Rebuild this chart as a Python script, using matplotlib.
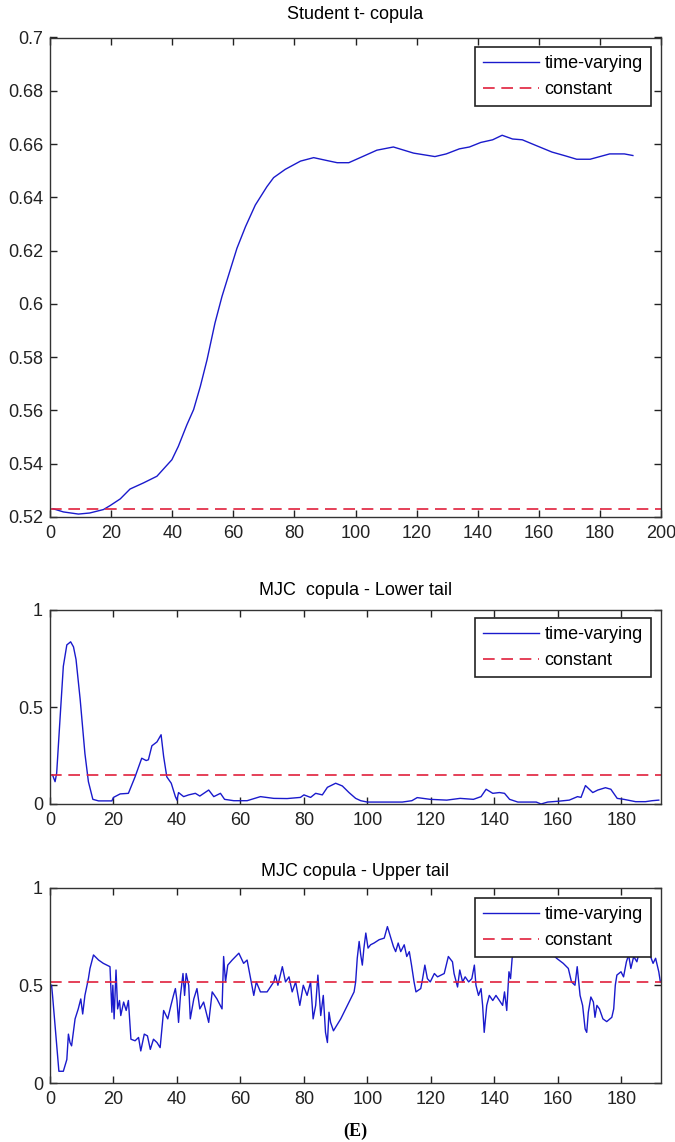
import matplotlib
matplotlib.use('Agg')
import matplotlib.pyplot as plt
import numpy as np

plt.rcParams['font.family'] = ['Liberation Sans', 'DejaVu Sans']

# Student t copula, time-varying correlation
t_x = [1, 4.4, 9.3, 13, 17.5, 19.7, 23, 26.2, 30.6, 35, 39.9, 42, 44.8, 47, 49.2,
       51.4, 54, 56.3, 59, 61.2, 64, 67.2, 71, 73.2, 77, 82, 86.3, 90.7, 94, 97.8,
       102.7, 107, 112.4, 119, 126, 129.7, 134, 137.3, 141, 144.9, 148, 151.4,
       154.6, 159, 164.3, 168.6, 172.4, 176.8, 180, 183.2, 188, 190.8]
t_y = [0.5231, 0.5219, 0.5211, 0.5215, 0.5228, 0.5243, 0.5268, 0.5305, 0.5328,
       0.5353, 0.5415, 0.5465, 0.5546, 0.5603, 0.569, 0.579, 0.5928, 0.6028,
       0.6128, 0.6209, 0.629, 0.6371, 0.644, 0.6474, 0.6505, 0.6536, 0.6549,
       0.6538, 0.653, 0.653, 0.6555, 0.6577, 0.6589, 0.6566, 0.6553, 0.6563,
       0.6582, 0.6589, 0.6606, 0.6616, 0.6633, 0.6619, 0.6616, 0.6595, 0.657,
       0.6556, 0.6543, 0.6543, 0.6553, 0.6563, 0.6563, 0.6557]
t_const = 0.523

# MJC copula, lower tail
lo_x = [0.8, 1.6, 2.1, 3.2, 4.2, 5.3, 6.5, 7.4, 8.2, 9.5, 11, 12.1, 13.5, 15.3,
        19.5, 20, 22.1, 24.7, 26.8, 28.9, 30.3, 31, 32.1, 33.7, 35, 35.8, 36.8,
        38.2, 39.5, 40, 40.5, 42.1, 43.7, 45.8, 47.2, 50, 51.6, 53.7, 55, 57.9,
        62.1, 66.3, 70.5, 74.7, 78.9, 80, 82.1, 83.7, 85.8, 87.4, 90, 92.1, 94.2,
        96.3, 97.9, 100, 111, 114, 115.7, 119.8, 125, 129.2, 133.4, 135.8, 137.4,
        139.5, 141.6, 143.2, 144.8, 147.4, 153.2, 154.7, 156.8, 160, 163.6, 166.2,
        167.3, 168.7, 171, 172.6, 175, 176.7, 178.7, 180.8, 184.5, 187.6, 189.7,
        191.8]
lo_y = [0.15, 0.115, 0.159, 0.45, 0.71, 0.82, 0.836, 0.81, 0.745, 0.54, 0.26,
        0.115, 0.024, 0.016, 0.016, 0.034, 0.052, 0.055, 0.14, 0.236, 0.224,
        0.228, 0.30, 0.32, 0.357, 0.245, 0.14, 0.107, 0.038, 0.02, 0.059, 0.038,
        0.047, 0.055, 0.041, 0.072, 0.038, 0.055, 0.024, 0.017, 0.017, 0.038,
        0.029, 0.028, 0.034, 0.047, 0.034, 0.055, 0.047, 0.086, 0.107, 0.093,
        0.059, 0.029, 0.017, 0.01, 0.01, 0.017, 0.033, 0.024, 0.02, 0.029, 0.024,
        0.038, 0.076, 0.055, 0.059, 0.055, 0.024, 0.01, 0.01, 0.0, 0.01, 0.014,
        0.02, 0.038, 0.034, 0.095, 0.059, 0.072, 0.084, 0.076, 0.029, 0.024,
        0.012, 0.012, 0.017, 0.02]
lo_const = 0.148

# MJC copula, upper tail
up_x = [0.5, 0.8, 1.6, 2.1, 2.8, 4.2, 5.3, 5.8, 6.3, 6.8, 7.9, 8.9, 9.7, 10.3,
        11, 12.1, 12.6, 13.7, 15.3, 16.8, 18.9, 19.5, 19.8, 20.2, 20.8, 21.3,
        21.9, 22.3, 23.2, 24, 24.7, 25.5, 26.8, 27.9, 28.6, 29.7, 30.7, 31.6,
        32.6, 33.7, 34.7, 35.8, 37.1, 38.1, 38.9, 39.5, 40, 40.5, 41.1, 41.9,
        42.4, 42.9, 43.7, 44.2, 45.3, 46.3, 47.2, 48.4, 50, 51.1, 52.6, 54.2,
        54.7, 55.3, 56, 57.4, 59.5, 61, 62.1, 63.2, 64.2, 65, 66.3, 68.4, 70.5,
        71, 71.8, 73.2, 74.2, 75.3, 76.3, 77.4, 78.7, 79.8, 81, 82.1, 82.9, 83.7,
        84.4, 85.3, 86.1, 86.8, 87.4, 87.9, 88.4, 89.3, 91.6, 93.7, 95.8, 96.3,
        96.8, 97.4, 97.9, 98.4, 98.9, 99.5, 100.2, 101, 102.1, 103.7, 105.3,
        106.3, 107.4, 108.2, 108.9, 109.7, 110.5, 111.6, 112.4, 113.2, 113.9,
        114.7, 115.3, 116.8, 117.4, 118.1, 118.9, 119.8, 121.1, 122.1, 123.2,
        124.2, 125.5, 126.8, 127.3, 128.4, 129.1, 130, 130.8, 131.9, 132.9,
        133.7, 134.2, 135, 135.8, 136.3, 136.8, 137.6, 138.4, 139.5, 140.5,
        141.6, 142.6, 143.2, 143.9, 144.6, 145.1, 145.6, 146.3, 147, 149, 151,
        153, 155, 157, 159.6, 161.7, 163.3, 164.3, 165.4, 166.1, 167, 167.8,
        168.6, 169.1, 169.6, 170.4, 171.2, 171.7, 172.3, 173.1, 174.2, 175.4,
        177, 177.6, 178.1, 178.6, 179.9, 180.7, 181.6, 182.3, 183, 183.9, 184.9,
        185.5, 186.5, 187.5, 188.5, 189.2, 190, 190.8, 191.8, 192.3]
up_y = [0.5, 0.448, 0.293, 0.19, 0.06, 0.06, 0.12, 0.25, 0.207, 0.19, 0.328,
        0.379, 0.43, 0.353, 0.448, 0.534, 0.586, 0.655, 0.629, 0.612, 0.595,
        0.362, 0.5, 0.328, 0.578, 0.379, 0.422, 0.345, 0.414, 0.371, 0.422,
        0.224, 0.216, 0.233, 0.164, 0.25, 0.241, 0.172, 0.224, 0.207, 0.181,
        0.371, 0.328, 0.397, 0.448, 0.483, 0.422, 0.31, 0.448, 0.56, 0.448,
        0.56, 0.5, 0.328, 0.43, 0.483, 0.379, 0.414, 0.31, 0.466, 0.43, 0.379,
        0.647, 0.517, 0.603, 0.629, 0.664, 0.612, 0.629, 0.534, 0.448, 0.517,
        0.466, 0.466, 0.517, 0.552, 0.5, 0.595, 0.517, 0.543, 0.466, 0.517,
        0.397, 0.5, 0.448, 0.517, 0.328, 0.397, 0.552, 0.345, 0.448, 0.259,
        0.207, 0.362, 0.31, 0.267, 0.328, 0.397, 0.466, 0.517, 0.638, 0.724,
        0.655, 0.603, 0.69, 0.767, 0.69, 0.707, 0.716, 0.733, 0.741, 0.80,
        0.741, 0.698, 0.672, 0.716, 0.672, 0.707, 0.647, 0.672, 0.603, 0.517,
        0.466, 0.483, 0.534, 0.603, 0.534, 0.517, 0.56, 0.543, 0.552, 0.56,
        0.647, 0.62, 0.56, 0.491, 0.578, 0.517, 0.543, 0.517, 0.534, 0.603,
        0.5, 0.448, 0.483, 0.397, 0.259, 0.397, 0.448, 0.422, 0.448, 0.422,
        0.397, 0.466, 0.371, 0.569, 0.534, 0.638, 0.672, 0.70, 0.72, 0.74,
        0.71, 0.70, 0.68, 0.638, 0.612, 0.586, 0.517, 0.5, 0.595, 0.448, 0.397,
        0.276, 0.259, 0.362, 0.44, 0.414, 0.336, 0.397, 0.379, 0.328, 0.314,
        0.336, 0.379, 0.5, 0.552, 0.569, 0.543, 0.62, 0.655, 0.586, 0.647, 0.62,
        0.66, 0.68, 0.65, 0.66, 0.647, 0.612, 0.638, 0.569, 0.517]
up_const = 0.518

blue = '#1a1acc'
red = '#e0203c'
fs = 13

fig = plt.figure(figsize=(6.75, 11.42), dpi=100)
W, H = 675., 1142.

def make_ax(top, bottom, left=50, right=661):
    return fig.add_axes([left / W, 1 - bottom / H, (right - left) / W, (bottom - top) / H])

def style(ax, title, pad, leg_top):
    ax.set_title(title, fontsize=fs, pad=pad)
    ax.tick_params(direction='in', length=5, width=1, top=True, right=True,
                   labelsize=fs, colors='#222222')
    ax.tick_params(axis='x', pad=6)
    ax.tick_params(axis='y', pad=5)
    for s in ax.spines.values():
        s.set_linewidth(1)
        s.set_color('#333333')
    leg = ax.legend(loc='upper right', bbox_to_anchor=(651 / W, 1 - leg_top / H),
                    bbox_transform=fig.transFigure, borderaxespad=0, fancybox=False,
                    framealpha=1, edgecolor='#222222', fontsize=fs, handlelength=3.1,
                    handletextpad=0.3, labelspacing=0.5, borderpad=0.45)
    leg.get_frame().set_linewidth(1.2)

# top panel
ax1 = make_ax(37.5, 517)
ax1.plot(t_x, t_y, color=blue, lw=1, label='time-varying')
ax1.plot([0, 200], [t_const, t_const], color=red, lw=1.2, ls=(0, (7, 4)), label='constant')
ax1.set_xlim(0, 200)
ax1.set_ylim(0.52, 0.7)
ax1.set_xticks(np.arange(0, 201, 20))
ax1.set_yticks(np.arange(0.52, 0.701, 0.02))
ax1.set_yticklabels(['0.52', '0.54', '0.56', '0.58', '0.6', '0.62', '0.64', '0.66', '0.68', '0.7'])
style(ax1, 'Student t- copula', 13, 47)

# middle panel
ax2 = make_ax(610, 804)
ax2.plot(lo_x, lo_y, color=blue, lw=1, label='time-varying')
ax2.plot([0, 193], [lo_const, lo_const], color=red, lw=1.2, ls=(0, (7, 4)), label='constant')
ax2.set_xlim(0, 192.5)
ax2.set_ylim(0, 1)
ax2.set_xticks(np.arange(0, 181, 20))
ax2.set_yticks([0, 0.5, 1])
ax2.set_yticklabels(['0', '0.5', '1'])
style(ax2, 'MJC  copula - Lower tail', 11, 618)

# bottom panel
ax3 = make_ax(887.5, 1083)
ax3.plot(up_x, up_y, color=blue, lw=1, label='time-varying')
ax3.plot([0, 193], [up_const, up_const], color=red, lw=1.2, ls=(0, (7, 4)), label='constant')
ax3.set_xlim(0, 192.5)
ax3.set_ylim(0, 1)
ax3.set_xticks(np.arange(0, 181, 20))
ax3.set_yticks([0, 0.5, 1])
ax3.set_yticklabels(['0', '0.5', '1'])
style(ax3, 'MJC copula - Upper tail', 8, 898)

fig.text(355.5 / W, 1 - 1131 / H, '(E)', ha='center', va='center', fontsize=13,
         fontweight='bold', family=['Liberation Serif', 'DejaVu Serif'])

fig.savefig('out.png', dpi=100)
